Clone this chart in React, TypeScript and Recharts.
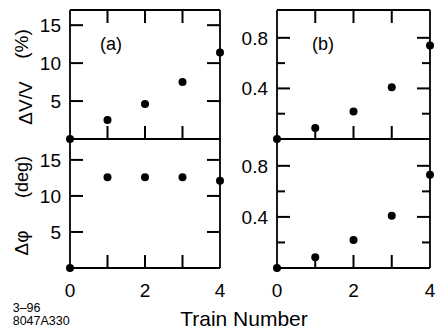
import { ScatterChart, Scatter, XAxis, YAxis } from "recharts";

// Train number on x, measured changes for the two train sets (a) and (b)
const trainNumber = [0, 1, 2, 3, 4];
const dvvA = [0, 2.5, 4.6, 7.5, 11.4];
const dphiA = [0, 12.6, 12.6, 12.6, 12.1];
const dvvB = [0, 0.087, 0.217, 0.41, 0.74];
const dphiB = [0, 0.085, 0.22, 0.41, 0.73];

const xInnerTicks = [1, 2, 3];
const xLabelTicks = [0, 1, 2, 3, 4];
const ticksA = [5, 10, 15];
const ticksB = [0.2, 0.4, 0.6, 0.8];
const labelsB = [0.4, 0.8];

const FONT = "'Liberation Sans', Arial, Helvetica, sans-serif";
const INK = "#000";

// labels only; the marks on both sides come from the right axis
function YLabel(props: any) {
  const v = props.payload.value;
  if (!props.labelled.includes(v)) return <g />;
  return (
    <text x={Number(props.x)} y={Number(props.y)} dy="0.355em" textAnchor="end" fontSize={19} fill={INK} fontFamily={FONT}>
      {String(v)}
    </text>
  );
}

// inward tick marks (recharts draws them outward)
function YMarks(props: any) {
  const x = Number(props.x);
  const y = Number(props.y);
  const len = props.labelled.includes(props.payload.value) ? 13 : 8;
  const xl = x - props.pw;
  return (
    <g>
      <line x1={x} x2={x - len} y1={y} y2={y} stroke={props.col} strokeWidth={2} />
      <line x1={xl} x2={xl + len} y1={y} y2={y} stroke={props.col} strokeWidth={2} />
    </g>
  );
}

function XTick(props: any) {
  const x = Number(props.x);
  const y = Number(props.y);
  const v = props.payload.value;
  const inner = xInnerTicks.includes(v);
  if (props.side === "top") {
    return <g>{inner && <line x1={x} x2={x} y1={y} y2={y + 13} stroke={props.col} strokeWidth={2} />}</g>;
  }
  return (
    <g>
      {inner && <line x1={x} x2={x} y1={y} y2={y - 13} stroke={props.col} strokeWidth={2} />}
      {props.lower && v % 2 === 0 && (
        <text x={x} y={y + 28.5} textAnchor="middle" fontSize={19} fill={INK} fontFamily={FONT}>
          {String(v)}
        </text>
      )}
    </g>
  );
}

const dot = (p: any) => <circle cx={p.cx} cy={p.cy} r={4} fill={INK} />;
const none = () => <g />;

type PanelProps = {
  values: number[];
  domain: [number, number];
  ticks: number[];
  labelled: number[];
  lower: boolean;
  left: number;
  top: number;
  width: number;
  height: number;
  axisW: number;
  mt: number;
  mb: number;
};

function Panel({ values, domain, ticks, labelled, lower, left, top, width, height, axisW, mt, mb }: PanelProps) {
  const data = trainNumber.map((x, i) => ({ x, y: values[i] }));
  const pw = width - 5 - axisW;
  return (
    <div style={{ position: "absolute", left, top }}>
      <ScatterChart width={width} height={height} margin={{ top: mt, right: 4, bottom: mb, left: 0 }}>
        <XAxis
          xAxisId="t"
          orientation="top"
          type="number"
          dataKey="x"
          domain={[0, 4]}
          ticks={lower ? [] : xInnerTicks}
          interval={0}
          height={1}
          tickSize={0}
          tickMargin={0}
          tickLine={false}
          tick={(p: any) => <XTick {...p} side="top" col="black" />}
          stroke={INK}
          strokeWidth={1.8}
        />
        <XAxis
          xAxisId="b"
          type="number"
          dataKey="x"
          domain={[0, 4]}
          ticks={lower ? xLabelTicks : xInnerTicks}
          interval={0}
          height={lower ? 40 : 1}
          tickSize={0}
          tickMargin={0}
          tickLine={false}
          tick={(p: any) => <XTick {...p} side="bottom" lower={lower} col="black" />}
          stroke={INK}
          strokeWidth={1.8}
        />
        <YAxis
          yAxisId="l"
          type="number"
          dataKey="y"
          domain={domain}
          ticks={ticks}
          interval={0}
          width={axisW}
          tickSize={0}
          tickMargin={9}
          tickLine={false}
          tick={(p: any) => <YLabel {...p} labelled={labelled} />}
          stroke={INK}
          strokeWidth={1.8}
        />
        <YAxis
          yAxisId="r"
          orientation="right"
          type="number"
          dataKey="y"
          domain={domain}
          ticks={ticks}
          interval={0}
          width={1}
          tickSize={0}
          tickMargin={0}
          tickLine={false}
          tick={(p: any) => <YMarks {...p} labelled={labelled} pw={pw} col="black" />}
          stroke={INK}
          strokeWidth={1.8}
        />
        <Scatter data={data} xAxisId="t" yAxisId="r" shape={none} isAnimationActive={false} />
        <Scatter data={data} xAxisId="b" yAxisId="l" fill={INK} shape={dot} isAnimationActive={false} />
      </ScatterChart>
    </div>
  );
}

export default function App() {
  return (
    <div style={{ position: "fixed", left: 0, top: 0, width: 435, height: 331, background: "#fff", fontFamily: FONT }}>
      <Panel values={dvvA} domain={[0, 17]} ticks={ticksA} labelled={ticksA} lower={false} left={0} top={0} width={225} height={145} axisW={70} mt={9} mb={5} />
      <Panel values={dphiA} domain={[0, 17.9]} ticks={ticksA} labelled={ticksA} lower left={0} top={135} width={225} height={196} axisW={70} mt={3} mb={23} />
      <Panel values={dvvB} domain={[0, 1.02]} ticks={ticksB} labelled={labelsB} lower={false} left={225} top={0} width={210} height={145} axisW={52} mt={9} mb={5} />
      <Panel values={dphiB} domain={[0, 1.01]} ticks={ticksB} labelled={labelsB} lower left={225} top={135} width={210} height={196} axisW={52} mt={3} mb={23} />
      <svg width={435} height={331} style={{ position: "absolute", left: 0, top: 0, pointerEvents: "none" }} fontFamily={FONT} fill={INK}>
        <text x={111} y={49.5} fontSize={18} textAnchor="middle">(a)</text>
        <text x={323} y={49.5} fontSize={18} textAnchor="middle">(b)</text>
        <text transform="translate(31.5,103) rotate(-90)" fontSize={19} textAnchor="middle">ΔV/V</text>
        <text transform="translate(27.7,44) rotate(-90)" fontSize={19} textAnchor="middle">(%)</text>
        <text transform="translate(28,243) rotate(-90)" fontSize={19} textAnchor="middle">Δφ</text>
        <text transform="translate(27.7,177) rotate(-90)" fontSize={18} textAnchor="middle">(deg)</text>
        <text x={244} y={326} fontSize={21} textAnchor="middle">Train Number</text>
        <text x={12.7} y={311.7} fontSize={12.5}>3–96</text>
        <text x={12.7} y={325} fontSize={12.5}>8047A330</text>
      </svg>
    </div>
  );
}
